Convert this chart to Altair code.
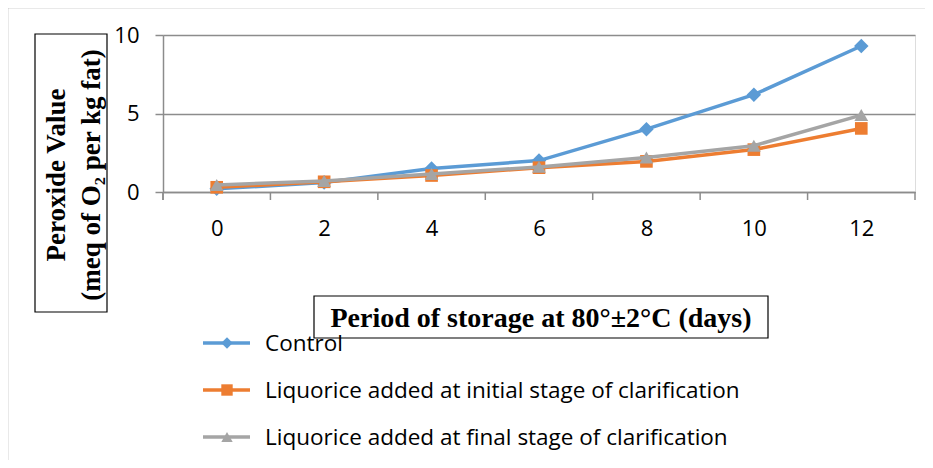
import altair as alt
import pandas as pd

days = [0, 2, 4, 6, 8, 10, 12]
control = [0.2, 0.6, 1.5, 2.0, 4.0, 6.2, 9.3]
initial = [0.3, 0.65, 1.05, 1.55, 1.95, 2.7, 4.05]
final = [0.45, 0.7, 1.15, 1.6, 2.2, 2.95, 4.9]

series_names = [
    "Control",
    "Liquorice added at initial stage of clarification",
    "Liquorice added at final stage of clarification",
]
series_values = [control, initial, final]
series_colors = ["#5b9bd5", "#ed7d31", "#a5a5a5"]
series_shapes = ["diamond", "square", "triangle-up"]
series_sizes = [210, 160, 190]

x_tick_positions = [-1, 1, 3, 5, 7, 9, 11, 13]
y_ticks = [0, 5, 10]

W, H = 752, 157
GRID = "#8c8c8c"
SANS = "Open Sans"

xs = alt.Scale(domain=[-1, 13], nice=False, zero=False)
ys = alt.Scale(domain=[0, 10], nice=False)

layers = []

# outer border
layers.append(
    alt.Chart(pd.DataFrame({"a": [0]})).mark_rect(
        fill=None, stroke="#a6a6a6", strokeWidth=1.5
    ).encode(x=alt.value(-155.5), x2=alt.value(769), y=alt.value(-27.5), y2=alt.value(432))
)

# base axes (invisible points to create axes)
base = alt.Chart(pd.DataFrame({"x": days, "y": [0] * len(days)})).mark_point(opacity=0).encode(
    x=alt.X("x:Q", scale=xs, axis=alt.Axis(
        values=days, ticks=False, title=None, grid=False, domainColor=GRID, domainWidth=1.5,
        labelFontSize=22, labelFont=SANS, labelColor="#000000", labelPadding=26,
        labelFlush=False)),
    y=alt.Y("y:Q", scale=ys, axis=alt.Axis(
        values=y_ticks, title=None, grid=True, gridColor=GRID, gridWidth=1.5, domainColor=GRID,
        domainWidth=1.5, tickColor=GRID, tickWidth=1.5, tickSize=8, labelFontSize=22,
        labelFont=SANS, labelColor="#000000", labelPadding=16)),
)
layers.append(base)

# x ticks between categories
layers.append(
    alt.Chart(pd.DataFrame({"t": x_tick_positions})).mark_rule(color=GRID, strokeWidth=1.5).encode(
        x=alt.X("t:Q", scale=xs), y=alt.value(H), y2=alt.value(H + 8)
    )
)
# y domain extension below zero
layers.append(
    alt.Chart(pd.DataFrame({"a": [0]})).mark_rule(color=GRID, strokeWidth=1.5).encode(
        x=alt.value(0), y=alt.value(H), y2=alt.value(H + 8)
    )
)

# series
for name, vals, col, shp, sz in zip(series_names, series_values, series_colors, series_shapes, series_sizes):
    df = pd.DataFrame({"x": days, "y": vals})
    layers.append(alt.Chart(df).mark_line(color=col, strokeWidth=3.5).encode(
        x=alt.X("x:Q", scale=xs), y=alt.Y("y:Q", scale=ys)))
    layers.append(alt.Chart(df).mark_point(color=col, shape=shp, filled=True, size=sz, opacity=1).encode(
        x=alt.X("x:Q", scale=xs), y=alt.Y("y:Q", scale=ys)))

# legend
leg_y = [308, 355, 402]
for name, col, shp, ly in zip(series_names, series_colors, series_shapes, leg_y):
    layers.append(alt.Chart(pd.DataFrame({"a": [0]})).mark_rule(color=col, strokeWidth=3.5).encode(
        x=alt.value(40), x2=alt.value(87), y=alt.value(ly)))
    layers.append(alt.Chart(pd.DataFrame({"a": [0]})).mark_point(
        color=col, shape=shp, filled=True, size=130, opacity=1).encode(
        x=alt.value(64), y=alt.value(ly)))
    layers.append(alt.Chart(pd.DataFrame({"label": [name]})).mark_text(
        align="left", baseline="middle", fontSize=22.5, font=SANS, color="#000000").encode(
        x=alt.value(102), y=alt.value(ly + 1), text="label:N"))

# y title box
layers.append(alt.Chart(pd.DataFrame({"a": [0]})).mark_rect(
    fill=None, stroke="#000000", strokeWidth=1.2).encode(
    x=alt.value(-128), x2=alt.value(-56), y=alt.value(-1), y2=alt.value(277)))
ytitle = ["Peroxide Value", "(meq of O\u2082 per kg fat)"]
for txt, tx in zip(ytitle, [-106, -71]):
    layers.append(alt.Chart(pd.DataFrame({"label": [txt]})).mark_text(
        angle=270, align="center", baseline="middle", fontSize=27, fontWeight="bold",
        font="Liberation Serif", color="#000000").encode(
        x=alt.value(tx), y=alt.value(140), text="label:N"))

# x title box
layers.append(alt.Chart(pd.DataFrame({"a": [0]})).mark_rect(
    fill=None, stroke="#000000", strokeWidth=1.2).encode(
    x=alt.value(151), x2=alt.value(605), y=alt.value(261), y2=alt.value(303)))
layers.append(alt.Chart(pd.DataFrame({"label": ["Period of storage at 80\u00b0\u00b12\u00b0C (days)"]})).mark_text(
    align="center", baseline="middle", fontSize=28, fontWeight="bold",
    font="Liberation Serif", color="#000000").encode(
    x=alt.value(378), y=alt.value(284), text="label:N"))

chart = alt.layer(*layers).properties(
    width=W, height=H,
    autosize=alt.AutoSizeParams(type="none"),
    padding={"left": 155, "top": 27, "right": 10, "bottom": 268},
).configure_view(stroke=None).configure(background="#ffffff")

chart.save("out.html", embed_options={"renderer": "svg", "actions": False})
